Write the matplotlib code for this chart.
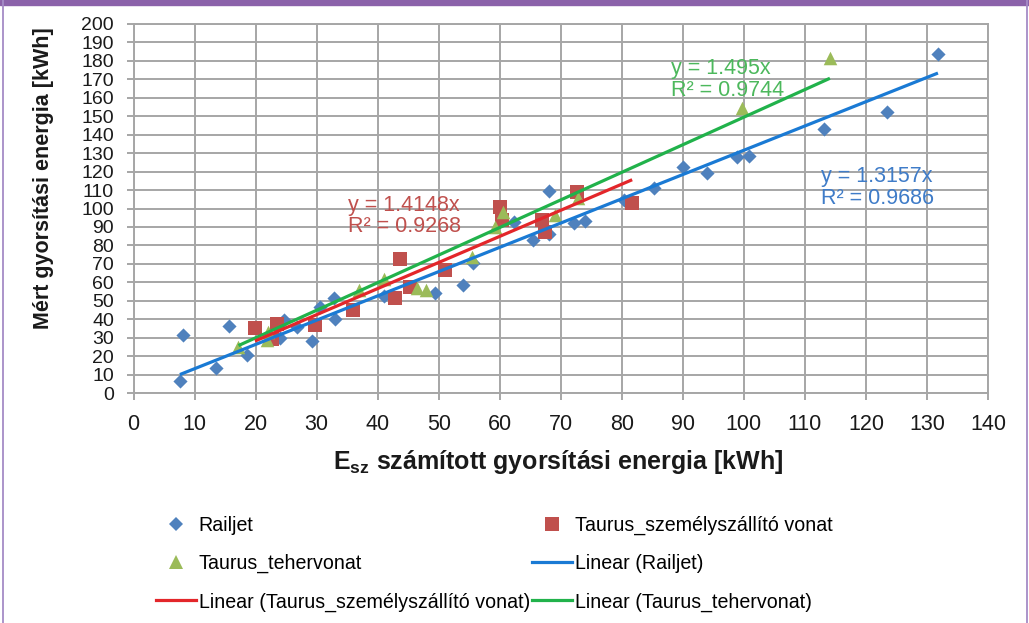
import matplotlib
matplotlib.use("Agg")
import matplotlib.pyplot as plt
import numpy as np
from matplotlib.lines import Line2D
from matplotlib.patches import Rectangle

# --- data -------------------------------------------------------------
railjet_x = [7.6, 8.1, 13.5, 15.7, 18.6, 24.0, 24.6, 26.8, 29.3, 30.6, 32.8,
             33.0, 41.0, 49.4, 54.0, 55.7, 62.3, 65.5, 68.0, 68.0, 72.1, 74.0,
             80.3, 85.2, 90.1, 93.9, 98.9, 100.8, 113.1, 123.5, 131.8]
railjet_y = [6.5, 31.4, 13.6, 36.3, 20.5, 30.0, 39.6, 35.6, 28.2, 46.8, 51.3,
             40.0, 52.6, 54.0, 58.5, 70.6, 92.8, 83.0, 109.6, 86.2, 92.3, 93.2,
             104.6, 111.0, 122.7, 119.4, 127.7, 128.5, 142.9, 152.5, 183.7]

szemely_x = [19.9, 23.5, 22.7, 29.8, 36.0, 42.9, 43.7, 45.3, 51.1, 60.0, 60.4,
             66.9, 67.5, 72.7, 81.7]
szemely_y = [35.0, 37.5, 29.5, 37.0, 45.0, 51.5, 72.5, 57.6, 66.7, 101.0, 94.0,
             93.8, 87.4, 109.1, 102.8]

teher_x = [17.2, 21.8, 22.0, 37.0, 41.0, 46.4, 48.0, 55.4, 59.3, 60.6, 69.0,
           72.9, 99.7, 114.1]
teher_y = [25.1, 28.7, 33.0, 55.8, 62.0, 57.0, 55.8, 73.9, 90.0, 98.3, 96.5,
           105.5, 154.3, 181.4]

# trendline slopes (through origin) and R² as stated
slope_railjet, r2_railjet = 1.3157, 0.9686
slope_szemely, r2_szemely = 1.4148, 0.9268
slope_teher, r2_teher = 1.495, 0.9744

series_names = ["Railjet", "Taurus_személyszállító vonat", "Taurus_tehervonat"]

x_ticks = list(range(0, 141, 10))
y_ticks = list(range(0, 201, 10))

# --- styling ------------------------------------------------------------
FONT = ["Liberation Sans", "DejaVu Sans"]
plt.rcParams["font.family"] = FONT
plt.rcParams["mathtext.fontset"] = "custom"
plt.rcParams["mathtext.bf"] = "Liberation Sans:bold"
plt.rcParams["mathtext.rm"] = "Liberation Sans"

c_rail_pt, c_szem_pt, c_teher_pt = "#4F81BD", "#C0504D", "#9BBB59"
c_rail_ln, c_szem_ln, c_teher_ln = "#1A7AD4", "#E3262A", "#21B24B"
grid_c = "#A6A6A6"
text_c = "#1a1a1a"

W, H = 1029, 623
fig = plt.figure(figsize=(W / 100, H / 100), dpi=100)
fig.patch.set_facecolor("white")

L, R, T, B = 133.5, 988, 24, 393
ax = fig.add_axes([L / W, 1 - B / H, (R - L) / W, (B - T) / H])
ax.set_xlim(0, 140)
ax.set_ylim(0, 200)
ax.set_xticks(x_ticks)
ax.set_yticks(y_ticks)
ax.grid(True, color=grid_c, linewidth=1.4)
ax.set_axisbelow(True)
for s in ax.spines.values():
    s.set_color(grid_c)
    s.set_linewidth(1.4)
ax.tick_params(axis="both", color=grid_c, width=1.4, length=5, direction="out")
ax.tick_params(axis="x", labelsize=15.5, pad=10, labelcolor=text_c)
ax.tick_params(axis="y", labelsize=14, pad=9, labelcolor=text_c)

# scatter series
ax.scatter(railjet_x, railjet_y, marker="D", s=52, color=c_rail_pt,
           linewidths=0, zorder=3)
ax.scatter(szemely_x, szemely_y, marker="s", s=110, color=c_szem_pt,
           linewidths=0, zorder=3)
ax.scatter(teher_x, teher_y, marker="^", s=95, color=c_teher_pt,
           linewidths=0, zorder=4)

# linear trendlines over each series' x-range
def trend(xs, k, color):
    xx = np.array([min(xs), max(xs)])
    ax.plot(xx, k * xx, color=color, linewidth=2.3, zorder=5,
            solid_capstyle="butt")

trend(railjet_x, slope_railjet, c_rail_ln)
trend(teher_x, slope_teher, c_teher_ln)
trend(szemely_x, slope_szemely, c_szem_ln)

# trendline equations
def eq(x, y, k, r2, color):
    ax.text(x, y, f"y = {k:g}x\nR² = {r2:g}", color=color, fontsize=15.5,
            ha="left", va="top", linespacing=1.05, zorder=6)

eq(35.2, 107.5, slope_szemely, r2_szemely, "#C0504D")
eq(88.0, 181.5, slope_teher, r2_teher, "#4CB85C")
eq(112.7, 123.0, slope_railjet, r2_railjet, "#3F7CC8")

# axis titles
fig.text(44 / W, 1 - 178 / H, "Mért gyorsítási energia [kWh]", rotation=90,
         fontsize=15.5, fontweight="bold", ha="center", va="center",
         color=text_c)
fig.text(558 / W, 1 - 462 / H,
         r"E$_{\mathbf{sz}}$ számított gyorsítási energia [kWh]",
         fontsize=18, fontweight="bold", ha="center", va="center",
         color=text_c)

# legend
h_rail = Line2D([], [], marker="D", linestyle="none", color=c_rail_pt,
                markersize=7, markeredgewidth=0)
h_szem = Line2D([], [], marker="s", linestyle="none", color=c_szem_pt,
                markersize=10, markeredgewidth=0)
h_teher = Line2D([], [], marker="^", linestyle="none", color=c_teher_pt,
                 markersize=10, markeredgewidth=0)
l_rail = Line2D([], [], color=c_rail_ln, linewidth=2.3)
l_szem = Line2D([], [], color=c_szem_ln, linewidth=2.3)
l_teher = Line2D([], [], color=c_teher_ln, linewidth=2.3)

handles = [h_rail, h_teher, l_szem, h_szem, l_rail, l_teher]
labels = [series_names[0], series_names[2], f"Linear ({series_names[1]})",
          series_names[1], f"Linear ({series_names[0]})",
          f"Linear ({series_names[2]})"]
fig.legend(handles, labels, ncol=2, loc="upper left",
           bbox_to_anchor=(140 / W, 1 - 500 / H), frameon=False,
           fontsize=14.1, handlelength=2.05, handletextpad=0.15,
           columnspacing=0.1, labelspacing=0.98, borderpad=0.3)

# purple frame
fig.add_artist(Rectangle((0, 1 - 5 / H), 1, 5 / H, transform=fig.transFigure,
                         color="#8B62AA", zorder=10))
fig.add_artist(Line2D([3 / W, 3 / W], [0, 1], transform=fig.transFigure,
                      color="#A58BC6", linewidth=1.3, zorder=10))
fig.add_artist(Line2D([1 - 2 / W, 1 - 2 / W], [0, 1],
                      transform=fig.transFigure, color="#A58BC6",
                      linewidth=1.3, zorder=10))

fig.savefig("out.png", dpi=100, facecolor="white")
